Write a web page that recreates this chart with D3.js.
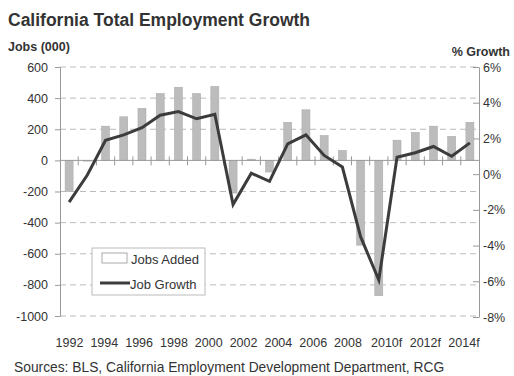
<!DOCTYPE html>
<html>
<head>
<meta charset="utf-8">
<script src="https://cdn.jsdelivr.net/npm/d3@7"></script>
<style>
  body { margin: 0; background: #fff; }
  text { font-family: "Liberation Sans", Arial, sans-serif; fill: #333; }
</style>
</head>
<body>
<svg width="514" height="376"></svg>
<script>
// data
var years = d3.range(1992, 2015);
var yearLabels = ["1992", "1994", "1996", "1998", "2000", "2002", "2004", "2006", "2008", "2010f", "2012f", "2014f"];
var jobsAdded = [-200, -5, 220, 280, 335, 430, 470, 430, 475, -210, 8, -75, 245, 325, 160, 64, -545, -870, 130, 180, 220, 155, 245];
var jobGrowth = [-1.57, -0.05, 1.9, 2.2, 2.6, 3.3, 3.5, 3.1, 3.35, -1.7, 0.05, -0.4, 1.7, 2.2, 1.05, 0.4, -3.5, -5.93, 0.95, 1.2, 1.55, 1.0, 1.75];
var leftTicks = [600, 400, 200, 0, -200, -400, -600, -800, -1000];
var rightTicks = [6, 4, 2, 0, -2, -4, -6, -8];
// end of data

var svg = d3.select("svg");
var plotLeft = 60, plotRight = 479, plotTop = 67, plotBottom = 316;
var fontFam = "Liberation Sans, Arial, sans-serif";

var x = d3.scaleBand().domain(years).range([plotLeft, plotRight]).paddingInner(0.56).paddingOuter(0.28);
var yL = d3.scaleLinear().domain([-1000, 600]).range([plotBottom, plotTop]);
var yR = d3.scaleLinear().domain([-8, 6]).range([plotBottom + 1, plotTop]);
// the year labels in the original don't sit exactly under the bars
var xLab = d3.scaleLinear().domain([1992, 2008, 2014]).range([69.5, 348, 464]);

// title
svg.append("text").attr("x", 8).attr("y", 26)
  .style("font-size", "17.5px").style("font-weight", "bold")
  .text("California Total Employment Growth");
svg.append("text").attr("x", 8).attr("y", 51)
  .style("font-size", "12.5px").style("font-weight", "bold")
  .text("Jobs (000)");
svg.append("text").attr("x", 510).attr("y", 56).attr("text-anchor", "end")
  .style("font-size", "12.5px").style("font-weight", "bold")
  .text("% Growth");

// gridlines
svg.append("g").selectAll("line")
  .data(leftTicks.filter(function(d) { return d !== 0; }))
  .enter().append("line")
    .attr("x1", plotLeft).attr("x2", plotRight)
    .attr("y1", function(d) { return yL(d); }).attr("y2", function(d) { return yL(d); })
    .attr("stroke", "#bbb").attr("stroke-dasharray", "6,4");

// left axis
var axL = svg.append("g").attr("transform", "translate(" + plotLeft + ",0)")
  .call(d3.axisLeft(yL).tickValues(leftTicks).tickSize(5).tickPadding(7)
    .tickFormat(function(d) { return String(d); }));
axL.select(".domain").attr("stroke", "#999");
axL.selectAll(".tick line").attr("stroke", "#999");
axL.selectAll("text").style("font-size", "12.5px").style("fill", "#333").style("font-family", fontFam);

// right axis
var axR = svg.append("g").attr("transform", "translate(" + plotRight + ",0)")
  .call(d3.axisRight(yR).tickValues(rightTicks).tickSize(0).tickPadding(4)
    .tickFormat(function(d) { return d + "%"; }));
axR.select(".domain").attr("stroke", "#999");
axR.selectAll(".tick line").attr("x1", -6).attr("x2", 0).attr("stroke", "#999");
axR.selectAll("text").style("font-size", "12.5px").style("fill", "#333").style("font-family", fontFam);

// bars
svg.append("g").selectAll("rect")
  .data(jobsAdded)
  .enter().append("rect")
    .attr("x", function(d, i) { return x(years[i]); })
    .attr("width", x.bandwidth())
    .attr("y", function(d) { return yL(Math.max(0, d)); })
    .attr("height", function(d) { return Math.abs(yL(d) - yL(0)); })
    .attr("fill", "#bcbcbc").attr("stroke", "#a8a8a8").attr("stroke-width", 0.5);

// zero line with category ticks
svg.append("line").attr("x1", plotLeft).attr("x2", plotRight)
  .attr("y1", yL(0)).attr("y2", yL(0)).attr("stroke", "#999");
svg.append("g").selectAll("line")
  .data(years.slice(1))
  .enter().append("line")
    .attr("x1", function(d) { return x(d) - x.step() * x.paddingInner() / 2; })
    .attr("x2", function(d) { return x(d) - x.step() * x.paddingInner() / 2; })
    .attr("y1", yL(0) - 4).attr("y2", yL(0) + 5)
    .attr("stroke", "#999");

// growth line
var line = d3.line()
  .x(function(d, i) { return x(years[i]) + x.bandwidth() / 2; })
  .y(function(d) { return yR(d); });
svg.append("path").datum(jobGrowth)
  .attr("d", line)
  .attr("fill", "none").attr("stroke", "#3c3c3c").attr("stroke-width", 3)
  .attr("stroke-linejoin", "miter");

// x labels
svg.append("g").selectAll("text")
  .data(yearLabels)
  .enter().append("text")
    .attr("x", function(d) { return xLab(+d.slice(0, 4)); })
    .attr("y", 347)
    .attr("text-anchor", "middle")
    .style("font-size", "12.5px")
    .text(function(d) { return d; });

// legend
var lg = svg.append("g").attr("transform", "translate(92,248)");
lg.append("rect").attr("width", 113).attr("height", 47)
  .attr("fill", "#fff").attr("stroke", "#bbb");
lg.append("rect").attr("x", 10).attr("y", 5).attr("width", 25).attr("height", 10)
  .attr("fill", "#fff").attr("stroke", "#aaa");
lg.append("text").attr("x", 39).attr("y", 15.5).style("font-size", "13px").text("Jobs Added");
lg.append("line").attr("x1", 8).attr("x2", 38).attr("y1", 35).attr("y2", 35)
  .attr("stroke", "#3c3c3c").attr("stroke-width", 3);
lg.append("text").attr("x", 38).attr("y", 40.5).style("font-size", "13px").text("Job Growth");

// source
svg.append("text").attr("x", 14).attr("y", 372)
  .style("font-size", "13.8px")
  .text("Sources: BLS, California Employment Development Department, RCG");
</script>
</body>
</html>
